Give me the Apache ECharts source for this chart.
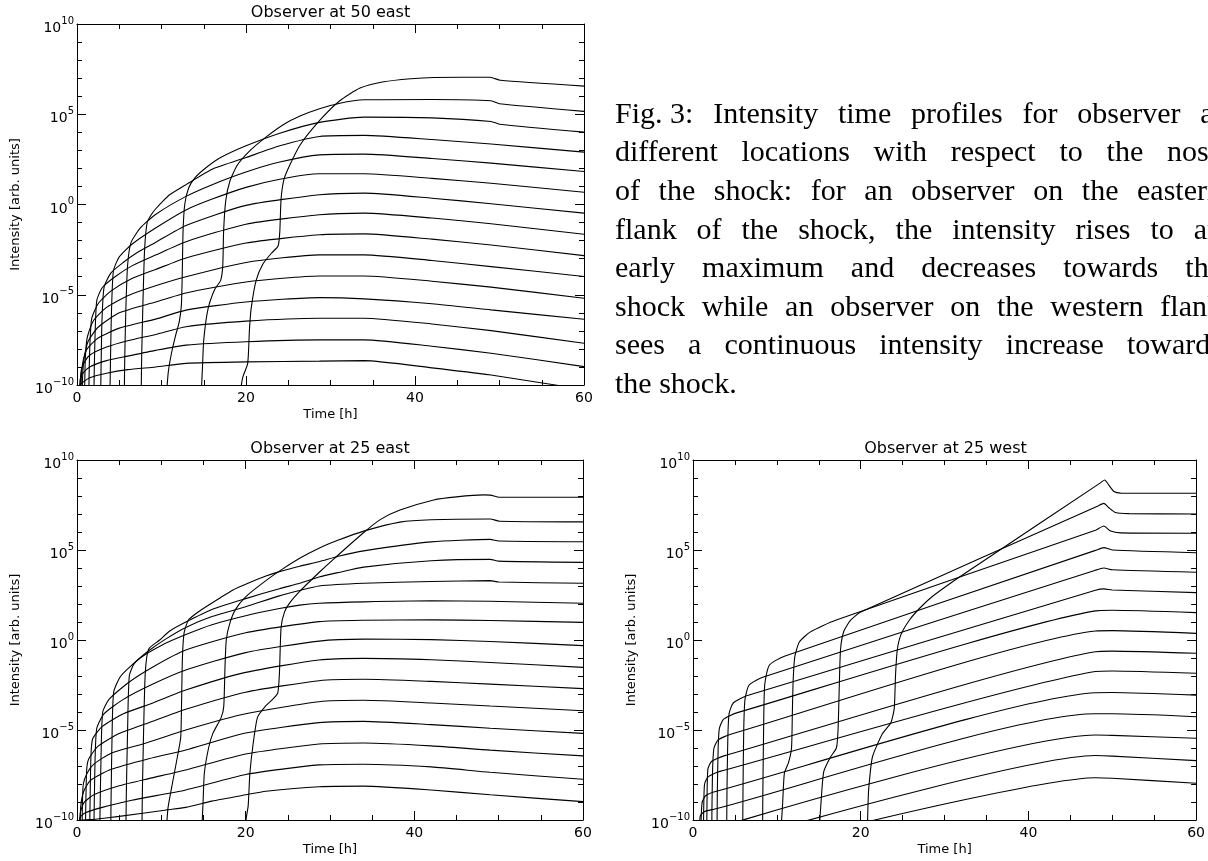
<!DOCTYPE html>
<html>
<head>
<meta charset="utf-8">
<title>Intensity time profiles</title>
<script src="https://cdn.jsdelivr.net/npm/echarts@6.0.0/dist/echarts.min.js"></script>
<style>
  html, body { margin: 0; padding: 0; background: #fff; }
  #chart { width: 1208px; height: 861px; }
</style>
</head>
<body>
<div id="chart"></div>
<script>
// time in hours, intensity as log10 (arb. units); one curve per energy channel, lowest first
const xTicks = [0, 20, 40, 60];
const yTickExps = [-10, -5, 0, 5, 10];
const panelTitles = ['Observer at 50 east', 'Observer at 25 east', 'Observer at 25 west'];

const east50 = [
  [[0.25,-10.5],[0.35,-10.0],[0.7,-9.85],[1.5,-9.6],[3.5,-9.35],[6,-9.15],[9.3,-9.0],[12.9,-8.8],[20,-8.72],[28.7,-8.68],[34,-8.65],[42,-9.05],[49,-9.45],[56.6,-10.0],[60,-10.25]],
  [[0.3,-10.5],[0.38,-9.7],[0.6,-9.4],[1.5,-9.0],[3.5,-8.65],[6,-8.4],[9.3,-8.08],[12.9,-7.79],[20,-7.6],[28.7,-7.5],[34,-7.5],[42,-7.85],[49,-8.24],[60,-8.98]],
  [[0.35,-10.5],[0.45,-9.35],[0.7,-8.9],[1.5,-8.35],[3.5,-7.9],[6,-7.55],[9.3,-7.2],[12.9,-6.77],[20,-6.46],[28.7,-6.3],[34,-6.3],[42,-6.62],[49,-6.99],[60,-7.69]],
  [[0.45,-10.5],[0.55,-9.3],[0.75,-8.6],[1.2,-8.0],[2.5,-7.4],[5,-6.85],[9.3,-6.35],[12.9,-5.85],[20,-5.4],[28.7,-5.16],[34,-5.23],[42,-5.5],[49,-5.84],[60,-6.36]],
  [[0.6,-10.5],[0.7,-9.2],[0.85,-8.5],[1.3,-7.6],[2.5,-6.8],[5,-6.0],[9.3,-5.4],[12.9,-4.9],[20,-4.29],[28.7,-3.96],[34,-3.96],[42,-4.25],[49,-4.58],[60,-5.19]],
  [[0.9,-10.5],[0.95,-9.0],[1.05,-8.0],[1.25,-7.3],[2,-6.4],[3.5,-5.7],[6,-5.05],[9.3,-4.5],[12.9,-4.0],[20,-3.21],[28.7,-2.79],[34,-2.79],[42,-3.1],[49,-3.44],[60,-3.99]],
  [[1.4,-10.5],[1.45,-9.0],[1.55,-7.5],[1.75,-6.3],[2.5,-5.5],[4,-4.8],[6.5,-4.1],[9.3,-3.6],[12.9,-2.96],[20,-2.13],[28.7,-1.68],[34,-1.63],[42,-1.92],[49,-2.24],[60,-2.83]],
  [[2.0,-10.5],[2.05,-9.0],[2.15,-7.0],[2.35,-5.3],[3,-4.6],[4.5,-4.0],[6.5,-3.4],[9.3,-2.8],[12.9,-2.06],[20,-1.09],[28.7,-0.57],[34,-0.48],[42,-0.75],[49,-1.07],[60,-1.65]],
  [[2.8,-10.5],[2.85,-9.0],[2.95,-6.5],[3.2,-4.6],[4,-3.8],[5.5,-3.2],[7,-2.7],[9.3,-2.1],[12.9,-1.16],[20,-0.05],[28.7,0.54],[34,0.63],[42,0.35],[49,0.04],[60,-0.48]],
  [[3.9,-10.5],[3.95,-9.0],[4.05,-6.5],[4.3,-3.7],[5,-2.9],[6.5,-2.2],[9.3,-1.3],[12.9,-0.3],[16,0.3],[20,0.95],[24,1.4],[28.7,1.7],[34,1.7],[42,1.45],[49,1.18],[60,0.68]],
  [[5.6,-10.5],[5.65,-8.5],[5.8,-5.5],[6.0,-3.3],[6.4,-2.1],[7.5,-1.3],[9.3,-0.55],[12.9,0.45],[16,1.1],[20,1.8],[24,2.35],[28.7,2.75],[34,2.79],[42,2.55],[49,2.29],[60,1.83]],
  [[7.6,-10.5],[7.65,-8.5],[7.8,-5.5],[8.0,-2.5],[8.3,-1.0],[8.8,-0.55],[9.3,-0.25],[10.2,0.2],[11,0.55],[12.9,1.1],[16,1.95],[20,2.6],[24,3.25],[28.7,3.77],[34,3.83],[42,3.6],[49,3.35],[60,2.9]],
  [[10.6,-10.5],[10.8,-9.3],[11.2,-8.2],[11.7,-7.2],[12.1,-6.5],[12.35,-5.6],[12.45,-4.0],[12.55,-1.5],[12.75,0.0],[13.2,0.9],[14,1.5],[15.3,2.05],[17,2.6],[20,3.25],[24,3.95],[28.7,4.55],[34,4.84],[42,4.8],[49,4.6],[50,4.45],[60,4.01]],
  [[14.7,-10.5],[14.85,-9.0],[15.0,-7.5],[15.5,-5.8],[16.3,-4.7],[17.0,-4.2],[17.25,-3.4],[17.35,-1.5],[17.6,0.2],[18.1,1.3],[19.0,2.2],[20.5,3.0],[22.4,3.75],[24.5,4.45],[26.4,4.9],[28.7,5.3],[31,5.6],[34,5.8],[42,5.82],[49,5.75],[50,5.58],[60,5.16]],
  [[19.3,-10.5],[19.6,-9.6],[20.2,-8.8],[20.4,-7.0],[20.6,-5.8],[21.2,-4.2],[22,-3.3],[23,-2.7],[23.8,-2.3],[24,-1.5],[24.15,0.3],[24.5,1.4],[25.2,2.2],[26.4,3.3],[28.8,4.7],[31.1,5.75],[33.5,6.45],[36.3,6.8],[39.5,6.97],[42.2,7.04],[48.9,7.05],[50.1,6.88],[60,6.56]]
];

const east25 = [
  [[0.25,-10.5],[0.35,-10.05],[1.9,-9.97],[5,-9.8],[10.6,-9.44],[12.9,-9.3],[16,-8.95],[20,-8.6],[22.4,-8.4],[28.7,-8.15],[34,-8.12],[42,-8.33],[49,-8.6],[60,-8.98]],
  [[0.3,-10.5],[0.37,-9.85],[1,-9.6],[3,-9.3],[6.5,-8.9],[12.9,-8.33],[20,-7.47],[28.7,-6.94],[34,-6.9],[42,-7.05],[49,-7.35],[60,-7.74]],
  [[0.32,-10.5],[0.4,-9.6],[0.8,-9.05],[2,-8.6],[5,-8.1],[8.5,-7.7],[12.9,-7.22],[20,-6.33],[28.7,-5.78],[34,-5.72],[42,-5.88],[49,-6.12],[60,-6.44]],
  [[0.35,-10.5],[0.45,-9.2],[0.8,-8.4],[1.6,-7.8],[4,-7.2],[8.5,-6.6],[12.9,-6.11],[20,-5.17],[28.7,-4.59],[34,-4.52],[42,-4.7],[49,-4.9],[60,-5.19]],
  [[0.6,-10.5],[0.65,-9.0],[0.75,-8.0],[1.2,-7.4],[2,-6.9],[4,-6.3],[8,-5.75],[12.9,-5.0],[20,-4.1],[28.7,-3.43],[34,-3.35],[42,-3.5],[49,-3.67],[60,-3.93]],
  [[1.0,-10.5],[1.05,-9.0],[1.15,-7.2],[1.4,-6.6],[2.5,-5.9],[5,-5.2],[8.5,-4.6],[12.9,-3.85],[20,-2.9],[28.7,-2.26],[34,-2.18],[42,-2.3],[49,-2.45],[60,-2.7]],
  [[1.5,-10.5],[1.55,-9.0],[1.65,-6.5],[1.85,-5.5],[3,-4.8],[5.5,-4.1],[9,-3.5],[12.9,-2.78],[20,-1.8],[28.7,-1.11],[34,-1.02],[42,-1.1],[49,-1.25],[60,-1.52]],
  [[2.0,-10.5],[2.05,-9.0],[2.15,-6.5],[2.35,-4.9],[3.2,-4.1],[5.5,-3.3],[9,-2.45],[12.9,-1.67],[20,-0.7],[28.7,-0.06],[34,0.05],[42,0.02],[49,-0.08],[60,-0.31]],
  [[2.7,-10.5],[2.75,-9.0],[2.85,-6.5],[3.05,-4.0],[3.8,-3.3],[6,-2.4],[9,-1.5],[12.9,-0.56],[20,0.4],[28.7,1.02],[34,1.1],[42,1.12],[49,1.08],[60,0.98]],
  [[4.0,-10.5],[4.05,-8.5],[4.15,-5.5],[4.35,-2.9],[5.2,-2.0],[7.5,-1.0],[10,-0.3],[12.9,0.3],[16,0.85],[20,1.35],[24,1.75],[26.4,1.94],[28.7,2.04],[34,2.12],[42,2.18],[49,2.15],[60,2.04]],
  [[5.8,-10.5],[5.85,-8.5],[6.0,-5.0],[6.2,-2.0],[6.8,-1.3],[8.5,-0.6],[10.5,0.05],[12.9,0.7],[16,1.3],[20,1.85],[24,2.45],[26.4,2.75],[28.7,3.0],[34,3.15],[42,3.25],[49,3.3],[50,3.22],[60,3.15]],
  [[7.7,-10.5],[7.75,-8.5],[7.9,-5.0],[8.1,-1.8],[8.5,-0.5],[9.8,0.0],[11,0.5],[12.9,1.0],[16,1.7],[20,2.3],[24,2.85],[26.4,3.15],[28.7,3.5],[31,3.75],[34,4.05],[42,4.4],[49,4.48],[50,4.38],[60,4.31]],
  [[10.6,-10.5],[10.8,-9.3],[11.3,-8.0],[11.9,-6.5],[12.3,-5.4],[12.4,-3.5],[12.5,-1.0],[12.7,0.4],[13.2,1.1],[14.2,1.5],[15.3,1.85],[17,2.35],[18.5,2.78],[20,3.1],[22.4,3.55],[24,3.8],[26.4,4.1],[28.7,4.35],[31,4.65],[34,4.95],[42,5.45],[49,5.59],[50,5.5],[60,5.46]],
  [[14.8,-10.5],[14.95,-9.0],[15.1,-7.4],[15.6,-6.0],[16.1,-5.2],[17.1,-4.3],[17.4,-3.7],[17.55,-1.5],[17.7,0.0],[18.1,0.9],[18.8,1.7],[20,2.4],[22.4,3.3],[24.4,3.95],[26.4,4.54],[28.7,5.1],[31,5.55],[34,6.05],[38.3,6.55],[42,6.68],[49,6.72],[50.1,6.6],[60,6.56]],
  [[19.9,-10.5],[20.1,-9.8],[20.3,-9.2],[20.5,-7.4],[20.85,-5.9],[21.4,-4.3],[22.3,-3.7],[23.2,-3.3],[23.8,-2.95],[24.0,-1.9],[24.2,0.7],[24.6,1.55],[25.2,2.05],[26.4,2.7],[28.7,3.75],[30.3,4.44],[33.9,5.93],[36,6.7],[38.3,7.22],[42.3,7.78],[45,7.95],[48.2,8.06],[49,8.05],[50.1,7.93],[60,7.93]]
];

const west25 = [
  [[20.8,-10.1],[48,-7.65],[50,-7.68],[60,-7.96]],
  [[13.5,-10.05],[48,-6.42],[50,-6.45],[60,-6.7]],
  [[5.8,-10.02],[48,-5.28],[50,-5.3],[60,-5.46]],
  [[0.8,-10.5],[0.85,-9.8],[1.3,-9.55],[2.5,-9.4],[48,-4.1],[50,-4.1],[60,-4.26]],
  [[0.95,-10.5],[1.0,-9.6],[1.1,-9.0],[1.5,-8.65],[2.8,-8.4],[48,-2.93],[50,-2.92],[60,-3.06]],
  [[1.25,-10.5],[1.28,-9.3],[1.38,-8.0],[1.8,-7.6],[3.2,-7.3],[48,-1.75],[50,-1.72],[60,-1.85]],
  [[1.64,-10.5],[1.67,-9.0],[1.77,-7.2],[2.2,-6.75],[3.6,-6.45],[48,-0.65],[50,-0.62],[60,-0.74]],
  [[2.24,-10.5],[2.27,-9.0],[2.35,-7.0],[2.5,-6.0],[3.0,-5.55],[4.4,-5.25],[48,0.5],[50,0.52],[60,0.37]],
  [[2.87,-10.5],[2.9,-8.5],[3.0,-6.0],[3.15,-4.9],[3.65,-4.4],[5.2,-4.05],[48,1.62],[50,1.65],[60,1.52]],
  [[4.02,-10.5],[4.05,-8.5],[4.15,-5.5],[4.3,-4.1],[4.8,-3.5],[6.4,-3.1],[48,2.76],[49,2.84],[50,2.78],[60,2.63]],
  [[5.93,-10.5],[5.96,-8.5],[6.05,-5.0],[6.2,-3.3],[6.7,-2.5],[8.4,-2.05],[48,3.88],[49,4.0],[50,3.9],[60,3.76]],
  [[8.3,-10.5],[8.33,-8.5],[8.42,-5.0],[8.55,-2.5],[9.1,-1.4],[10.9,-0.9],[48,4.98],[49,5.13],[50,5.0],[60,4.85]],
  [[10.5,-10.5],[10.7,-9.0],[10.9,-7.4],[11.4,-6.8],[11.75,-6.0],[11.85,-4.0],[11.95,-2.2],[12.15,-0.9],[12.7,-0.1],[14,0.45],[17,1.1],[48,6.1],[49,6.33],[49.8,6.05],[51,5.95],[60,5.93]],
  [[15.06,-10.5],[15.3,-8.8],[15.6,-7.3],[16.4,-6.5],[17.1,-6.0],[17.3,-5.0],[17.45,-2.5],[17.6,-0.5],[18.0,0.5],[18.8,1.1],[20,1.55],[48.3,7.45],[49,7.59],[49.6,7.35],[50.4,7.08],[52,7.02],[60,7.0]],
  [[20.8,-10.5],[20.85,-9.5],[20.95,-8.3],[21.4,-6.5],[22.6,-5.2],[23.6,-4.6],[24.0,-3.8],[24.15,-2.0],[24.35,-0.6],[24.8,0.3],[25.8,1.1],[27,1.75],[28.5,2.4],[31,3.25],[33.7,4.1],[48.5,8.7],[49.1,8.89],[49.6,8.6],[50.2,8.25],[51,8.16],[60,8.15]]
];

const captionLines = [
  'Fig.\u00a03: Intensity time profiles for observer at',
  'different locations with respect to the nose',
  'of the shock: for an observer on the eastern',
  'flank of the shock, the intensity rises to an',
  'early maximum and decreases towards the',
  'shock while an observer on the western flank',
  'sees a continuous intensity increase towards',
  'the shock.'
];

const FONT = '"DejaVu Sans", sans-serif';
const panels = [
  { curves: east50, grid: { left: 77, top: 24, width: 507, height: 361 } },
  { curves: east25, grid: { left: 77, top: 460, width: 506, height: 360 } },
  { curves: west25, grid: { left: 693, top: 460, width: 505, height: 360 } }
];

const tickStyle = { color: '#000', width: 1 };

function expLabel(v) {
  const e = Math.round(v);
  return '{b|10}{s|' + (e < 0 ? '\u2212' + (-e) : e) + '}';
}

const grids = [], xAxes = [], yAxes = [], series = [];
panels.forEach(function (p, g) {
  grids.push(Object.assign({ containLabel: false }, p.grid));
  const xBase = {
    gridIndex: g, type: 'value', min: xTicks[0], max: xTicks[xTicks.length - 1],
    interval: xTicks[1] - xTicks[0],
    axisLine: { show: true, onZero: false, lineStyle: tickStyle },
    axisTick: { show: true, inside: true, length: 9, lineStyle: tickStyle },
    minorTick: { show: true, splitNumber: 4, length: 5, lineStyle: tickStyle },
    splitLine: { show: false }
  };
  xAxes.push(Object.assign({}, xBase, {
    position: 'bottom',
    axisLabel: { color: '#000', fontSize: 14, fontFamily: FONT, margin: 6 },
    name: 'Time [h]', nameLocation: 'middle', nameGap: 23,
    nameTextStyle: { color: '#000', fontSize: 13, fontFamily: FONT }
  }));
  xAxes.push(Object.assign({}, xBase, { position: 'top', axisLabel: { show: false } }));

  const yBase = {
    gridIndex: g, type: 'value', min: yTickExps[0], max: yTickExps[yTickExps.length - 1],
    interval: yTickExps[1] - yTickExps[0],
    axisLine: { show: true, onZero: false, lineStyle: tickStyle },
    axisTick: { show: true, inside: true, length: 9, lineStyle: tickStyle },
    minorTick: { show: true, splitNumber: 5, length: 5, lineStyle: tickStyle },
    splitLine: { show: false }
  };
  yAxes.push(Object.assign({}, yBase, {
    position: 'left',
    axisLabel: {
      margin: 3, formatter: expLabel,
      rich: {
        b: { fontSize: 14, fontFamily: FONT, color: '#000', lineHeight: 16, padding: [9, 0, 0, 0] },
        s: { fontSize: 10, fontFamily: FONT, color: '#000', lineHeight: 12, verticalAlign: 'top' }
      }
    },
    name: 'Intensity [arb. units]', nameLocation: 'middle', nameGap: 55, nameRotate: 90,
    nameTextStyle: { color: '#000', fontSize: 13, fontFamily: FONT }
  }));
  yAxes.push(Object.assign({}, yBase, { position: 'right', axisLabel: { show: false } }));

  p.curves.forEach(function (c) {
    series.push({
      type: 'line', xAxisIndex: 2 * g, yAxisIndex: 2 * g, data: c,
      showSymbol: false, symbol: 'none', smooth: 0.2, clip: true, silent: true,
      lineStyle: { color: '#000', width: 1.1 }
    });
  });
});

// panel titles + justified caption as plain text elements
const graphics = [];
panels.forEach(function (p, g) {
  graphics.push({
    type: 'text', silent: true,
    x: p.grid.left + p.grid.width / 2, y: p.grid.top - 11,
    style: { text: panelTitles[g], font: '16px ' + FONT, fill: '#000', align: 'center', verticalAlign: 'middle' }
  });
});

const capFont = '30px "Liberation Serif", "DejaVu Serif", serif';
const capLeft = 615, capRight = 1222, capTop = 115, capStep = 38.57;
const meas = document.createElement('canvas').getContext('2d');
meas.font = capFont;
captionLines.forEach(function (line, i) {
  const words = line.split(' ');
  const widths = words.map(function (w) { return meas.measureText(w).width; });
  const total = widths.reduce(function (a, b) { return a + b; }, 0);
  const last = i === captionLines.length - 1;
  const gap = last || words.length < 2 ? meas.measureText(' ').width : (capRight - capLeft - total) / (words.length - 1);
  let x = capLeft;
  words.forEach(function (w, j) {
    graphics.push({
      type: 'text', silent: true, x: x, y: capTop + i * capStep,
      style: { text: w, font: capFont, fill: '#000', align: 'left', verticalAlign: 'middle' }
    });
    x += widths[j] + gap;
  });
});

const chart = echarts.init(document.getElementById('chart'), null, { renderer: 'canvas' });
chart.setOption({
  backgroundColor: '#fff',
  animation: false,
  grid: grids,
  xAxis: xAxes,
  yAxis: yAxes,
  series: series,
  graphic: graphics
});
</script>
</body>
</html>
